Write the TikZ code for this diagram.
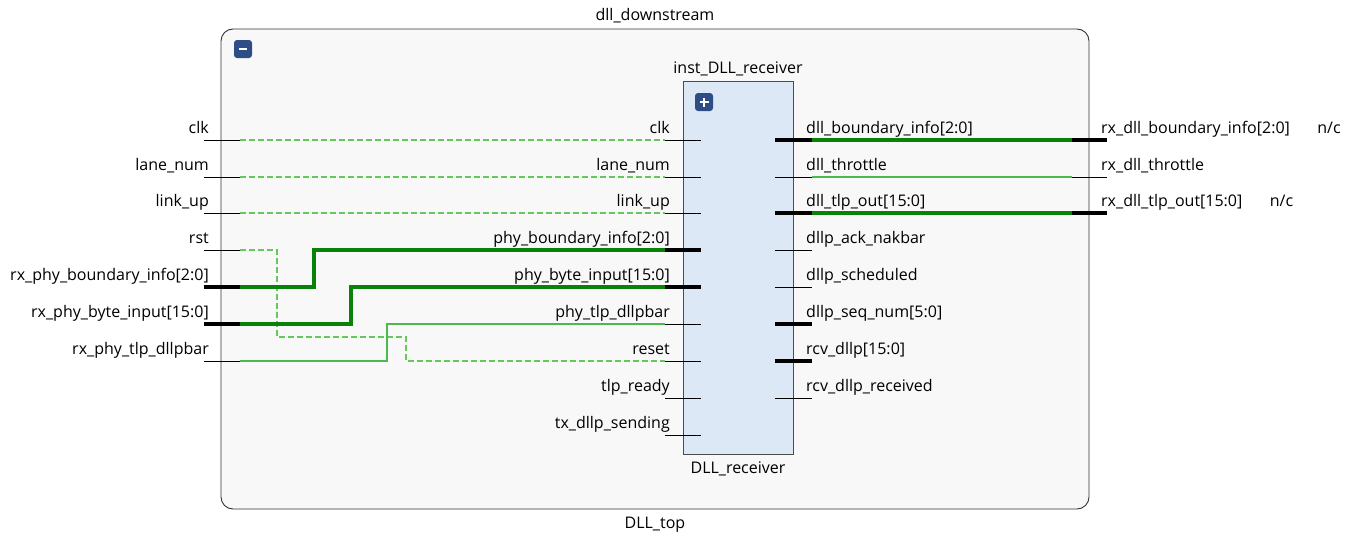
\documentclass[tikz,border=0pt]{standalone}
\usepackage{fontspec}
\setmainfont{Open Sans}
\definecolor{hierfill}{HTML}{F8F8F8}
\definecolor{cellfill}{HTML}{DDE8F6}
\definecolor{btnblue}{HTML}{2E4D86}
\definecolor{busgreen}{HTML}{0A820A}
\definecolor{siggreen}{HTML}{4DB84D}
\definecolor{ctlgreen}{HTML}{66C85A}
\newcommand{\lblfont}{\fontsize{16}{18}\selectfont}
\begin{document}
\begin{tikzpicture}[x=1pt,y=-1pt,
  lbl/.style={font=\lblfont, inner sep=0pt},
  stub/.style={draw=black, line width=1pt},
  busstub/.style={draw=black, line width=3.5pt},
  sig/.style={draw=siggreen, line width=1.2pt},
  bussig/.style={draw=busgreen, line width=3.5pt},
  ctl/.style={draw=ctlgreen, line width=1.2pt, dash pattern=on 6pt off 3pt},
  btn/.style={fill=btnblue, rounded corners=3pt, minimum width=18pt, minimum height=18pt, inner sep=0pt},
  btnmark/.style={draw=white, line width=2.4pt}]
\useasboundingbox (0,0) rectangle (1353,533);

% hierarchy frame and cell
\draw[fill=hierfill, draw=black!80, line width=0.9pt, rounded corners=12pt] (221,29) rectangle (1089,509);
\node[lbl, anchor=base] (toptitle) at (655,20) {dll\_downstream};
\node[lbl, anchor=base] (topname) at (655,528) {DLL\_top};
\node[btn] (collapse) at (243,49) {};
\draw[btnmark] ([xshift=-4pt]collapse.center) -- ([xshift=4pt]collapse.center);

\draw[fill=cellfill, draw=black!70, line width=0.9pt] (683,81) rectangle (793,454);
\node[lbl, anchor=base] (celltitle) at (738,73) {inst\_DLL\_receiver};
\node[lbl, anchor=base] (cellname) at (738,473) {DLL\_receiver};
\node[btn] (expand) at (704,102) {};
\draw[btnmark] ([xshift=-4.5pt]expand.center) -- ([xshift=4.5pt]expand.center);
\draw[btnmark] ([yshift=-4.5pt]expand.center) -- ([yshift=4.5pt]expand.center);

% cell input pins
\foreach \n/\y/\t in {iclk/140/clk, ilane/177/lane\_num, ilink/213/link\_up,
    ibnd/250/phy\_boundary\_info[2:0], ibyte/287/phy\_byte\_input[15:0],
    itlp/324/phy\_tlp\_dllpbar, irst/361/reset, irdy/398/tlp\_ready,
    isend/435/tx\_dllp\_sending}{
  \coordinate (\n) at (665,\y);
  \coordinate (\n-in) at (701,\y);
  \node[lbl, anchor=base east] (\n-lbl) at (670,\y-7) {\t};
}
% cell output pins
\foreach \n/\y/\t in {obnd/140/dll\_boundary\_info[2:0], othr/177/dll\_throttle,
    otlp/213/dll\_tlp\_out[15:0], oack/250/dllp\_ack\_nakbar,
    osch/287/dllp\_scheduled, oseq/324/dllp\_seq\_num[5:0],
    orcv/361/rcv\_dllp[15:0], orec/398/rcv\_dllp\_received}{
  \coordinate (\n) at (812,\y);
  \coordinate (\n-in) at (775,\y);
  \node[lbl, anchor=base west] (\n-lbl) at (806,\y-7) {\t};
}
% top-level input ports
\foreach \n/\y/\t in {pclk/140/clk, plane/177/lane\_num, plink/213/link\_up, prst/250/rst,
    pbnd/287/rx\_phy\_boundary\_info[2:0], pbyte/324/rx\_phy\_byte\_input[15:0],
    ptlp/361/rx\_phy\_tlp\_dllpbar}{
  \coordinate (\n) at (240,\y);
  \coordinate (\n-out) at (204,\y);
  \node[lbl, anchor=base east] (\n-lbl) at (209,\y-7) {\t};
}
% top-level output ports
\foreach \n/\y/\t in {qbnd/140/rx\_dll\_boundary\_info[2:0], qthr/177/rx\_dll\_throttle,
    qtlp/213/rx\_dll\_tlp\_out[15:0]}{
  \coordinate (\n) at (1072,\y);
  \coordinate (\n-out) at (1107,\y);
  \node[lbl, anchor=base west] (\n-lbl) at (1101,\y-7) {\t};
}
\node[lbl, anchor=base west] (nc1) at ([xshift=27pt]qbnd-lbl.base east) {n/c};
\node[lbl, anchor=base west] (nc2) at ([xshift=27pt]qtlp-lbl.base east) {n/c};

% nets
\draw[ctl] (pclk) -- (iclk);
\draw[ctl] (plane) -- (ilane);
\draw[ctl] (plink) -- (ilink);
\draw[ctl] (prst) -| (277,337) -| (406,361) -- (irst);
\draw[bussig] (pbnd) -| (314,250) -- (ibnd);
\draw[bussig] (pbyte) -| (351,287) -- (ibyte);
\draw[sig] (ptlp) -| (387,324) -- (itlp);
\draw[bussig] (obnd) -- (qbnd);
\draw[sig] (othr) -- (qthr);
\draw[bussig] (otlp) -- (qtlp);

% pin stubs
\foreach \n in {iclk,ilane,ilink,itlp,irst,irdy,isend} \draw[stub] (\n) -- (\n-in);
\foreach \n in {ibnd,ibyte} \draw[busstub] (\n) -- (\n-in);
\foreach \n in {othr,oack,osch,orec} \draw[stub] (\n-in) -- (\n);
\foreach \n in {obnd,otlp,oseq,orcv} \draw[busstub] (\n-in) -- (\n);
\foreach \n in {pclk,plane,plink,prst,ptlp} \draw[stub] (\n-out) -- (\n);
\foreach \n in {pbnd,pbyte} \draw[busstub] (\n-out) -- (\n);
\draw[stub] (qthr) -- (qthr-out);
\foreach \n in {qbnd,qtlp} \draw[busstub] (\n) -- (\n-out);
\end{tikzpicture}
\end{document}
